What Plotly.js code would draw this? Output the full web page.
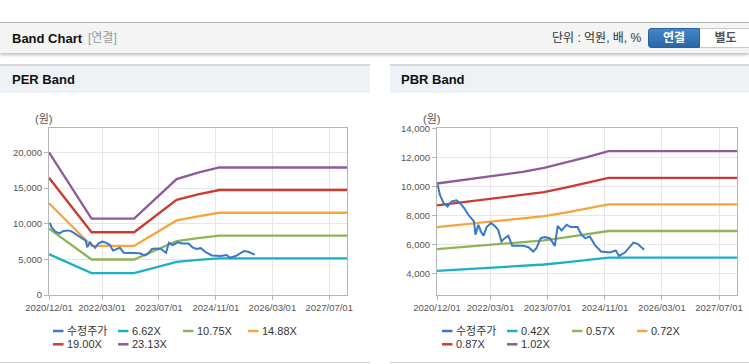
<!DOCTYPE html>
<html>
<head>
<meta charset="utf-8">
<script src="https://cdn.plot.ly/plotly-3.0.1.min.js"></script>
<style>
  html, body { margin:0; padding:0; background:#fff; width:749px; height:364px; overflow:hidden;
    font-family:"Liberation Sans","Noto Sans CJK KR",Arial,sans-serif; }
  .abs { position:absolute; }
  #hdr { left:0; top:22px; width:749px; height:31px; box-sizing:border-box; border-top:1px solid #b4b4b4;
    background:#f4f4f4; box-shadow:0 2px 3px rgba(0,0,0,0.25); }
  .t1 { font-weight:bold; font-size:13px; color:#111; line-height:31px; top:0; }
  .t2 { font-size:12px; color:#999; line-height:31px; top:0; }
  .unit { font-size:12px; color:#333; line-height:31px; top:0; }
  .btn { top:5px; height:20px; width:52px; box-sizing:border-box; font-size:12px; font-weight:bold;
    text-align:center; line-height:19px; }
  .b1 { left:648px; background:linear-gradient(#4586c7,#2b67a7); color:#fff; border:1px solid #2a62a0; border-radius:3px 0 0 3px; }
  .b2 { left:700px; background:#fff; color:#555; border:1px solid #c8c8c8; border-left:none; }
  .ph { top:64px; height:29px; box-sizing:border-box; border-top:2px solid #d6d6d6; background:#eef1f6; }
  .ph span { position:absolute; top:0; font-weight:bold; font-size:13px; color:#111; line-height:27px; }
  .pb { top:93px; height:270px; box-sizing:border-box; border-bottom:1px solid #cfcfcf; }
</style>
</head>
<body>
<div id="hdr" class="abs">
  <span class="abs t1" style="left:12px">Band Chart</span>
  <span class="abs t2" style="left:88px">[연결]</span>
  <span class="abs unit" style="left:552px">단위 : 억원, 배, %</span>
  <div class="abs btn b1">연결</div>
  <div class="abs btn b2">별도</div>
</div>
<div class="abs ph" style="left:0;width:370px"><span style="left:12px">PER Band</span></div>
<div class="abs ph" style="left:390px;width:359px"><span style="left:401px;left:11px">PBR Band</span></div>
<div class="abs pb" style="left:0;width:370px"><div id="per" style="width:370px;height:269px"></div></div>
<div class="abs pb" style="left:390px;width:359px"><div id="pbr" style="width:359px;height:269px"></div></div>

<script>
// ---------- data ----------
var xTickVals = ['2020-12-01','2022-03-01','2023-07-01','2024-11-01','2026-03-01','2027-07-01'];
var xTickText = ['2020/12/01','2022/03/01','2023/07/01','2024/11/01','2026/03/01','2027/07/01'];

var priceName = '수정주가';
var priceDates = ['2020-12-07','2020-12-25','2021-01-25','2021-03-01','2021-04-05','2021-05-15','2021-06-12',
  '2021-07-20','2021-08-25','2021-09-28','2021-10-12','2021-10-25','2021-11-18','2021-12-10','2022-01-01',
  '2022-01-28','2022-03-05','2022-04-06','2022-05-06','2022-06-03','2022-07-01','2022-08-01','2022-09-03',
  '2022-10-25','2022-12-07','2023-01-20','2023-03-01','2023-03-28','2023-05-04','2023-06-07','2023-07-20',
  '2023-09-01','2023-09-25','2023-10-28','2023-12-10','2024-01-15','2024-03-12','2024-04-15','2024-05-18',
  '2024-06-25','2024-08-06','2024-09-28','2024-12-12','2025-02-01','2025-03-01','2025-04-20','2025-07-01',
  '2025-08-06','2025-10-01'];
var priceValues = [10140,9450,8880,8640,8990,9060,8920,
  8530,8070,7770,7610,6690,7380,6920,6620,
  7220,7500,7310,7040,6230,6460,6620,5930,
  5930,5930,5840,5540,5770,6460,6530,6460,
  5930,7310,6990,7380,7220,7220,6690,6460,
  6570,6000,5540,5470,5610,5240,5470,6160,
  6070,5660];

var perBandNames = ['6.62X','10.75X','14.88X','19.00X','23.13X'];
var perBandDates = ['2020-12-01','2021-12-01','2022-12-01','2023-12-01','2024-06-01','2024-12-01','2027-12-01'];
var per662  = [5726, 3065, 3065, 4654, 4912, 5131, 5131];
var per1075 = [9299, 4977, 4977, 7557, 7977, 8331, 8331];
var per1488 = [12871, 6889, 6889, 10461, 11041, 11532, 11532];
var per1900 = [16435, 8797, 8797, 13357, 14098, 14725, 14725];
var per2313 = [20007, 10709, 10709, 16260, 17162, 17880, 17880];

var pbrBandNames = ['0.42X','0.57X','0.72X','0.87X','1.02X'];
var pbrBandDates = ['2020-12-01','2021-12-01','2022-12-01','2023-06-01','2023-12-01','2024-06-01','2024-12-01','2027-12-01'];
var pbr042 = [4208, 4381, 4540, 4649, 4796, 4956, 5124, 5124];
var pbr057 = [5711, 5945, 6162, 6310, 6509, 6726, 6954, 6954];
var pbr072 = [7214, 7510, 7783, 7970, 8222, 8496, 8784, 8784];
var pbr087 = [8717, 9074, 9405, 9631, 9935, 10266, 10614, 10614];
var pbr102 = [10220, 10639, 11026, 11291, 11648, 12036, 12444, 12444];

var perYTicks = [0, 5000, 10000, 15000, 20000];
var pbrYTicks = [4000, 6000, 8000, 10000, 12000, 14000];

var colors = ['#3a78c9', '#1bb0c6', '#8db457', '#f5a53b', '#cd3a30', '#8e5a98'];

// ---------- drawing ----------
var FONT = 'Liberation Sans, Noto Sans CJK KR, Arial, sans-serif';

function makeChart(divId, bandNames, bandDates, bandSeries, yTicks, yRange, m, legendLeft) {
  var W = document.getElementById(divId).offsetWidth, H = 269;
  var pw = W - m.l - m.r, ph = H - m.t - m.b;
  function px(x) { return (x - m.l) / pw; }
  function py(y) { return (H - m.b - y) / ph; }

  var traces = [{
    x: priceDates, y: priceValues, type: 'scatter', mode: 'lines', name: priceName,
    line: {color: colors[0], width: 2}
  }];
  bandSeries.forEach(function (s, i) {
    traces.unshift({
      x: bandDates, y: s, type: 'scatter', mode: 'lines', name: bandNames[i],
      line: {color: colors[i + 1], width: 2.3}
    });
  });

  var names = [priceName].concat(bandNames);
  var shapes = [], annotations = [];
  names.forEach(function (n, i) {
    var col = i % 4, row = Math.floor(i / 4);
    var sx = legendLeft + col * 65, sy = 238 + row * 13.3;
    shapes.push({type: 'line', xref: 'paper', yref: 'paper', x0: px(sx), x1: px(sx + 10.5),
      y0: py(sy), y1: py(sy), line: {color: colors[i], width: 2.5}});
    annotations.push({xref: 'paper', yref: 'paper', x: px(sx + 12), y: py(sy), xanchor: 'left', yanchor: 'middle',
      text: n, showarrow: false, font: {family: FONT, size: 11, color: '#333'}});
  });
  annotations.push({xref: 'paper', yref: 'paper', x: px(m.l - 6), y: py(26), xanchor: 'center', yanchor: 'middle',
    text: '(원)', showarrow: false, font: {family: FONT, size: 11, color: '#555'}});

  var layout = {
    width: W, height: H,
    margin: {l: m.l, r: m.r, t: m.t, b: m.b},
    paper_bgcolor: 'rgba(0,0,0,0)', plot_bgcolor: '#fff',
    showlegend: false,
    font: {family: FONT, size: 9.5, color: '#555'},
    xaxis: {type: 'date', range: ['2020-12-01', '2027-12-01'], tickvals: xTickVals, ticktext: xTickText,
      showgrid: true, gridcolor: '#e6e6e6', gridwidth: 1, showline: true, linecolor: '#b5b5b5', linewidth: 1,
      mirror: true, ticks: 'outside', ticklen: 4, tickcolor: '#b5b5b5', zeroline: false,
      tickfont: {family: FONT, size: 9.5, color: '#555'}},
    yaxis: {range: yRange, tickvals: yTicks, tickformat: ',', showgrid: true, gridcolor: '#e6e6e6',
      showline: true, linecolor: '#b5b5b5', linewidth: 1, mirror: true, ticks: 'outside', ticklen: 4,
      tickcolor: '#b5b5b5', zeroline: false, tickfont: {family: FONT, size: 9.5, color: '#555'}},
    shapes: shapes, annotations: annotations
  };
  Plotly.newPlot(divId, traces, layout, {staticPlot: true, displayModeBar: false});
}

makeChart('per', perBandNames, perBandDates, [per662, per1075, per1488, per1900, per2313],
  perYTicks, [0, 23420], {l: 49, r: 23, t: 35, b: 67}, 53);
makeChart('pbr', pbrBandNames, pbrBandDates, [pbr042, pbr057, pbr072, pbr087, pbr102],
  pbrYTicks, [2550, 14040], {l: 47, r: 12, t: 35, b: 67}, 52);
</script>
</body>
</html>
